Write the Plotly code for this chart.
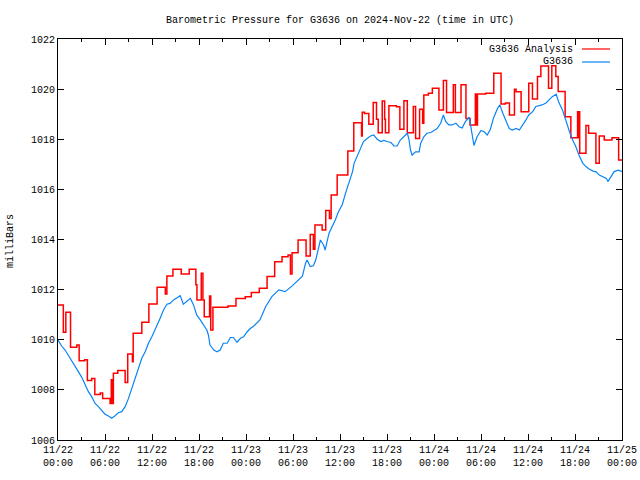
import pandas as pd
import plotly.graph_objects as go

# ---------------- data ----------------
start_time = "2024-11-22 00:00"

# G3636 Analysis: step values, hours since start
analysis_hours = [0.0, 0.68, 1.0, 1.6, 2.4, 2.7, 3.4, 3.75, 4.3, 4.7, 5.4, 5.7,
                  6.65, 6.8, 6.9, 7.07, 7.63, 8.57, 8.9, 9.5, 9.6, 10.7, 11.6,
                  12.65, 13.7, 13.9, 14.67, 15.73, 16.75, 17.6, 17.74, 18.29, 18.5,
                  18.67, 19.35, 19.5, 19.78, 21.7, 22.72, 23.9,
                  24.68, 25.7, 26.69, 27.66, 28.6, 29.37, 29.67, 29.88, 30.65, 31.67,
                  32.2, 32.6, 32.8, 33.72, 34.18, 34.65, 34.87, 35.64, 37.0, 37.76,
                  38.75, 38.84, 39.13, 39.68, 40.24, 40.66, 40.88, 41.39, 41.7, 41.8,
                  42.24, 43.2, 43.64, 44.16, 44.59, 45.36, 45.65, 46.16, 46.55, 46.7,
                  47.28, 47.79, 48.63, 49.2, 49.6, 50.47, 50.73, 51.45, 52.08, 52.6,
                  53.28, 53.45, 53.55, 54.6, 55.63, 56.56, 57.12, 57.63, 58.27, 58.48,
                  59.12, 60.1, 60.57, 61.21, 61.64, 62.62, 63.04, 63.55, 63.85, 64.74,
                  65.47, 66.33, 66.45, 66.52, 66.6, 67.4, 67.74, 68.67, 69.1, 69.73,
                  70.72, 71.57, 72.0]
analysis_values = [1011.39, 1010.30, 1011.10, 1009.70, 1009.79, 1009.16, 1009.20, 1008.37, 1008.45, 1007.82, 1007.88, 1007.66,
                   1007.46, 1008.40, 1007.46, 1008.66, 1008.77, 1008.29, 1009.43, 1009.12, 1010.26, 1010.70, 1011.43,
                   1012.09, 1011.83, 1012.54, 1012.81, 1012.62, 1012.81, 1012.19, 1011.59, 1012.65, 1011.59,
                   1010.92, 1011.75, 1010.39, 1011.30, 1011.35, 1011.65, 1011.72,
                   1011.89, 1012.05, 1012.52, 1013.11, 1013.31, 1013.38, 1012.62, 1013.47, 1013.98, 1013.34,
                   1014.20, 1013.61, 1014.58, 1014.38, 1015.16, 1014.84, 1015.78, 1016.57, 1017.53, 1018.66,
                   1018.13, 1019.08, 1019.03, 1018.60, 1019.47, 1018.80, 1018.26, 1019.53, 1018.80, 1018.26,
                   1019.34, 1019.30, 1018.40, 1019.54, 1018.26, 1019.31, 1018.03, 1019.20, 1018.64, 1019.77,
                   1019.84, 1020.03, 1019.17, 1020.34, 1019.07, 1020.17, 1019.07, 1020.17, 1018.83, 1018.57,
                   1019.81, 1018.57, 1019.81, 1019.84, 1020.63, 1019.41, 1019.45, 1018.97, 1020.00, 1019.90,
                   1019.10, 1020.23, 1019.61, 1020.50, 1020.92, 1020.03, 1020.93, 1020.50, 1019.91, 1018.90,
                   1018.06, 1019.10, 1018.06, 1019.10, 1017.44, 1018.55, 1018.24, 1017.04, 1018.13, 1017.97,
                   1018.06, 1017.17, 1017.17]

# G3636 station observations, hours since start
obs_hours = [0.0, 0.47, 0.9, 1.3, 1.75, 2.17, 2.6, 3.03, 3.45, 3.88, 4.3, 4.73, 5.16, 5.58, 6.0,
             6.44, 6.86, 7.29, 7.71, 8.14, 8.57, 9.0, 9.42, 9.85, 10.27, 10.7, 11.13, 11.55, 11.98,
             12.4, 13.04, 13.47, 13.9, 14.3, 14.75, 15.2, 15.6, 16.0, 16.45, 16.9, 17.3, 17.7, 18.16,
             18.6, 19.0, 19.2, 19.4, 19.9, 20.3, 20.7, 21.1, 21.6, 22.0, 22.4, 22.85, 23.3, 23.7, 24.1,
             24.55, 25.0, 25.8, 26.5, 27.3, 28.2, 28.6, 29.0, 29.9, 30.7, 31.2, 31.6, 31.8, 32.2, 32.6,
             32.9, 33.3, 33.5, 33.9, 34.1, 34.6, 35.0, 35.4, 35.8, 36.3, 36.7, 37.1, 37.6, 37.8, 38.2,
             38.6, 39.0, 39.5, 39.9, 40.3, 40.75, 41.2, 41.6, 42.0, 42.5, 42.9, 43.3, 43.7, 44.2, 44.6,
             44.8, 45.0, 45.2, 45.65, 46.1, 46.3, 46.7, 47.1, 47.6, 48.0, 48.4, 48.85, 49.2, 49.5, 49.9,
             50.3, 50.8, 51.2, 51.6, 52.0, 52.5, 52.7, 53.1, 53.5, 54.0, 54.4, 54.8, 55.2, 55.6, 56.1,
             56.4, 56.8, 57.2, 57.6, 58.0, 58.5, 58.9, 59.3, 59.7, 60.1, 60.6, 61.0, 61.4, 61.8, 62.3,
             62.7, 63.1, 63.6, 63.9, 64.4, 64.8, 65.3, 65.7, 66.1, 66.5, 67.0, 67.4, 67.8, 68.3, 68.7,
             69.1, 69.5, 70.0, 70.2, 70.6, 71.0, 71.5, 71.9, 72.0]
obs_values = [1009.99, 1009.75, 1009.59, 1009.39, 1009.19, 1008.99, 1008.73, 1008.50, 1008.19, 1007.93, 1007.73, 1007.46, 1007.33, 1007.17, 1007.03,
              1006.96, 1006.87, 1006.97, 1007.09, 1007.13, 1007.33, 1007.66, 1008.06, 1008.53, 1008.92, 1009.26, 1009.52, 1009.86, 1010.12,
              1010.39, 1010.86, 1011.19, 1011.42, 1011.45, 1011.59, 1011.68, 1011.76, 1011.42, 1011.55, 1011.65, 1011.39, 1010.99, 1010.79,
              1010.59, 1010.39, 1010.19, 1009.79, 1009.59, 1009.52, 1009.59, 1009.86, 1009.86, 1010.09, 1010.09, 1009.90, 1010.06, 1010.12, 1010.30,
              1010.45, 1010.55, 1010.80, 1011.32, 1011.72, 1011.99, 1011.95, 1011.92, 1012.15, 1012.38, 1012.54, 1013.05, 1013.18, 1012.92, 1012.95,
              1013.18, 1013.78, 1013.98, 1013.78, 1013.58, 1014.25, 1014.51, 1014.78, 1015.11, 1015.40, 1015.84, 1016.24, 1016.71, 1017.04, 1017.31,
              1017.64, 1017.91, 1018.04, 1018.13, 1018.17, 1018.00, 1017.91, 1017.95, 1017.91, 1017.87, 1017.73, 1017.73, 1017.97, 1018.10, 1018.24,
              1018.00, 1017.57, 1017.37, 1017.50, 1017.50, 1017.84, 1018.10, 1018.24, 1018.27, 1018.34, 1018.43, 1018.64, 1018.97, 1018.70, 1018.57,
              1018.57, 1018.64, 1018.50, 1018.45, 1018.70, 1018.88, 1018.50, 1017.75, 1018.10, 1018.35, 1018.30, 1018.17, 1018.40, 1018.85, 1019.23,
              1019.37, 1019.03, 1018.70, 1018.43, 1018.37, 1018.43, 1018.37, 1018.55, 1018.75, 1018.97, 1019.10, 1019.31, 1019.33, 1019.37, 1019.45,
              1019.57, 1019.70, 1019.80, 1019.50, 1019.17, 1018.77, 1018.30, 1017.97, 1017.71, 1017.37, 1017.04, 1016.91, 1016.81, 1016.73, 1016.70,
              1016.57, 1016.51, 1016.44, 1016.31, 1016.50, 1016.71, 1016.77, 1016.74, 1016.72]

x_tick_hours = [0, 6, 12, 18, 24, 30, 36, 42, 48, 54, 60, 66, 72]
x_tick_dates = ["11/22", "11/22", "11/22", "11/22", "11/23", "11/23", "11/23", "11/23",
                "11/24", "11/24", "11/24", "11/24", "11/25"]
x_tick_times = ["00:00", "06:00", "12:00", "18:00", "00:00", "06:00", "12:00", "18:00",
                "00:00", "06:00", "12:00", "18:00", "00:00"]
y_ticks = [1006, 1008, 1010, 1012, 1014, 1016, 1018, 1020, 1022]

title_text = "Barometric Pressure for G3636 on 2024-Nov-22 (time in UTC)"
y_label = "milliBars"
series_names = ["G3636 Analysis", "G3636"]
series_colors = ["#ff0000", "#0a84f5"]

# ---------------- figure ----------------
base = pd.Timestamp(start_time)
def to_time(hours):
    return base + pd.to_timedelta(hours, unit="h")

FONT = "Liberation Mono, DejaVu Sans Mono, monospace"

# plot box of the reference: x 58..622, y 39..440 (page body margin removed below)
W, H = 640, 480
ML, MR, MT, MB = 58, 18, 39, 40

fig = go.Figure()
fig.add_trace(go.Scatter(x=to_time(analysis_hours), y=analysis_values, mode="lines",
                         line=dict(color=series_colors[0], width=1.5, shape="hv"),
                         name=series_names[0], showlegend=False))
fig.add_trace(go.Scatter(x=to_time(obs_hours), y=obs_values, mode="lines",
                         line=dict(color=series_colors[1], width=1.2),
                         name=series_names[1], showlegend=False))

tick_vals = list(to_time(x_tick_hours))
tick_text = [d + "<br>" + t for d, t in zip(x_tick_dates, x_tick_times)]

fig.update_xaxes(range=[to_time(0), to_time(72)], tickvals=tick_vals, ticktext=tick_text,
                 ticks="inside", ticklen=6, tickcolor="black", showline=True, linecolor="black",
                 linewidth=1, mirror="ticks", showgrid=False, zeroline=False,
                 automargin=False, ticklabeloverflow="allow",
                 tickfont=dict(family=FONT, size=10, color="black"),
                 minor=dict(ticks="inside", ticklen=3, tickcolor="black",
                            dtick=3 * 3600 * 1000, tick0=to_time(0), showgrid=False))
fig.update_yaxes(range=[1006, 1022], tickvals=y_ticks, ticks="inside", ticklen=6,
                 tickcolor="black", showline=True, linecolor="black", linewidth=1,
                 mirror="ticks", showgrid=False, zeroline=False, automargin=False,
                 tickfont=dict(family=FONT, size=10, color="black"))

pw = W - ML - MR
ph = H - MT - MB
def px_to_paper_x(px):
    return (px - ML) / pw
def px_to_paper_y(py):
    return (H - MB - py) / ph

# legend drawn gnuplot-style (text left of sample line)
legend_px_y = [49, 62]
for name, color, ly in zip(series_names, series_colors, legend_px_y):
    fig.add_annotation(xref="paper", yref="paper", x=px_to_paper_x(575), y=px_to_paper_y(ly),
                       text=name, showarrow=False, xanchor="right", yanchor="middle",
                       font=dict(family=FONT, size=10, color="black"))
    fig.add_shape(type="line", xref="paper", yref="paper",
                  x0=px_to_paper_x(582), x1=px_to_paper_x(610),
                  y0=px_to_paper_y(ly), y1=px_to_paper_y(ly),
                  line=dict(color=color, width=1.2))

fig.add_annotation(xref="paper", yref="paper", x=px_to_paper_x(11), y=px_to_paper_y(241),
                   text=y_label, textangle=-90, showarrow=False, xanchor="center",
                   yanchor="middle", font=dict(family=FONT, size=10, color="black"))

fig.update_layout(
    width=W, height=H,
    margin=dict(l=ML, r=MR, t=MT, b=MB, autoexpand=False),
    paper_bgcolor="white", plot_bgcolor="white",
    title=dict(text=title_text, x=0.5, xref="paper", xanchor="center",
               y=1 - 19 / H, yref="container", yanchor="middle",
               font=dict(family=FONT, size=10, color="black")),
    showlegend=False,
)

post = ("document.body.style.margin='0';document.body.style.overflow='hidden';"
        "var gd=document.getElementById('{plot_id}');gd.style.width='640px';gd.style.height='480px';"
        "Plotly.relayout(gd,{width:640,height:480});")
fig.write_html("out.html", post_script=post, config={"displayModeBar": False})
